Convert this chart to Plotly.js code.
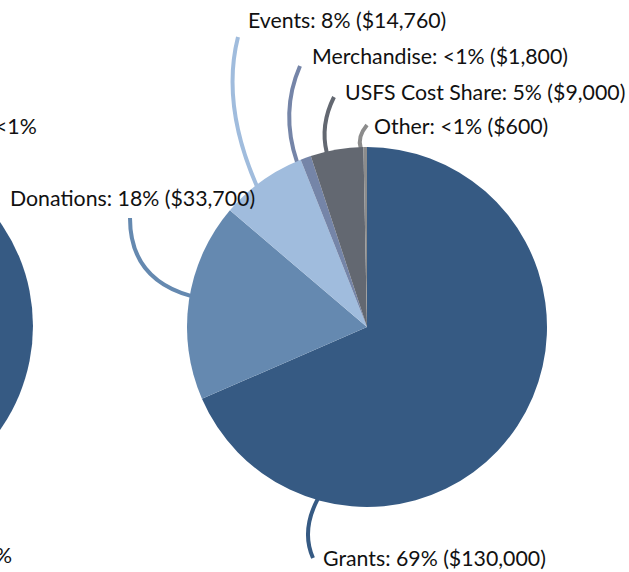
<!DOCTYPE html>
<html>
<head>
<meta charset="utf-8">
<script src="https://cdn.plot.ly/plotly-3.0.1.min.js"></script>
<style>
html, body { margin: 0; padding: 0; overflow: hidden; background: #fff; width: 629px; height: 572px; }
#chart { position: absolute; top: 0; }
</style>
</head>
<body>
<div id="chart"></div>
<script>
// ---- data ----
const categories = ["Grants", "Donations", "Events", "Merchandise", "USFS Cost Share", "Other"];
const amounts = [130000, 33700, 14760, 1800, 9000, 600];
const percentLabels = ["69%", "18%", "8%", "<1%", "5%", "<1%"];
const amountLabels = ["$130,000", "$33,700", "$14,760", "$1,800", "$9,000", "$600"];
const colors = ["#365a83", "#6589b0", "#a0bcdd", "#7585a8", "#636871", "#8c8c8c"];
// neighbouring (cropped) pie: only a dark part and two label endings are visible
const leftValues = [1];
const leftColors = ["#365a83"];
const leftLabelTexts = ["<1%", "%"];

// ---- layout geometry ----
const VIEW_W = 629, H = 572, OFF = 400;
const W = VIEW_W + OFF;
document.getElementById('chart').style.left = (-OFF) + 'px';
const px = x => (x + OFF) / W;
const py = y => 1 - y / H;

const R = 180;
const rc = {x: 367, y: 327};
const lc = {x: -147, y: 326};

// label positions (left edge, vertical middle) and leader-line geometry (window px)
const labelPos = [
  {x: 321, y: 558}, {x: 8, y: 198}, {x: 246, y: 20},
  {x: 310, y: 56}, {x: 343, y: 92}, {x: 372, y: 126}
];
const anchorAngle = [196, 280, 322, 337, 347, 358];
const leaderTop = [[313, 558], [130, 218], [238, 37], [300, 66], [334, 97], [367, 125]];
const leaderCtrl = [[301, 531], [130, 279], [221, 104], [280, 112], [320, 125], [357, 137]];

const traces = [
  {
    type: 'pie', values: amounts, labels: categories, sort: false,
    direction: 'clockwise', rotation: 0, textinfo: 'none', hoverinfo: 'label+value',
    marker: {colors: colors, line: {width: 0}}, showlegend: false,
    domain: {x: [px(rc.x - R), px(rc.x + R)], y: [py(rc.y + R), py(rc.y - R)]}
  },
  {
    type: 'pie', values: leftValues, sort: false, textinfo: 'none', hoverinfo: 'none',
    marker: {colors: leftColors, line: {width: 0}}, showlegend: false,
    domain: {x: [px(lc.x - R), px(lc.x + R)], y: [py(lc.y + R), py(lc.y - R)]}
  }
];

const font = {family: 'Lato, "Open Sans", sans-serif', size: 21.3, color: '#111'};
const annotations = categories.map((c, i) => ({
  text: c + ': ' + percentLabels[i] + ' (' + amountLabels[i] + ')',
  x: px(labelPos[i].x), y: py(labelPos[i].y), xref: 'paper', yref: 'paper',
  xanchor: 'left', yanchor: 'middle', showarrow: false, font: font
}));
annotations.push({text: leftLabelTexts[0], x: px(39), y: py(126), xref: 'paper', yref: 'paper',
  xanchor: 'right', yanchor: 'middle', showarrow: false, font: font});
annotations.push({text: leftLabelTexts[1], x: px(14), y: py(555), xref: 'paper', yref: 'paper',
  xanchor: 'right', yanchor: 'middle', showarrow: false, font: font});

const shapes = categories.map((c, i) => {
  const a = anchorAngle[i] * Math.PI / 180;
  const ex = rc.x + (R - 1) * Math.sin(a), ey = rc.y - (R - 1) * Math.cos(a);
  const [tx, ty] = leaderTop[i];
  const [cx, cy] = leaderCtrl[i];
  return {
    type: 'path', xref: 'paper', yref: 'paper', layer: 'below',
    path: `M${px(tx)},${py(ty)} Q${px(cx)},${py(cy)} ${px(ex)},${py(ey)}`,
    line: {color: colors[i], width: 4}
  };
});

Plotly.newPlot('chart', traces, {
  width: W, height: H, margin: {l: 0, r: 0, t: 0, b: 0},
  paper_bgcolor: '#fff', plot_bgcolor: '#fff',
  annotations: annotations, shapes: shapes, showlegend: false
}, {displayModeBar: false, staticPlot: true});
</script>
</body>
</html>
